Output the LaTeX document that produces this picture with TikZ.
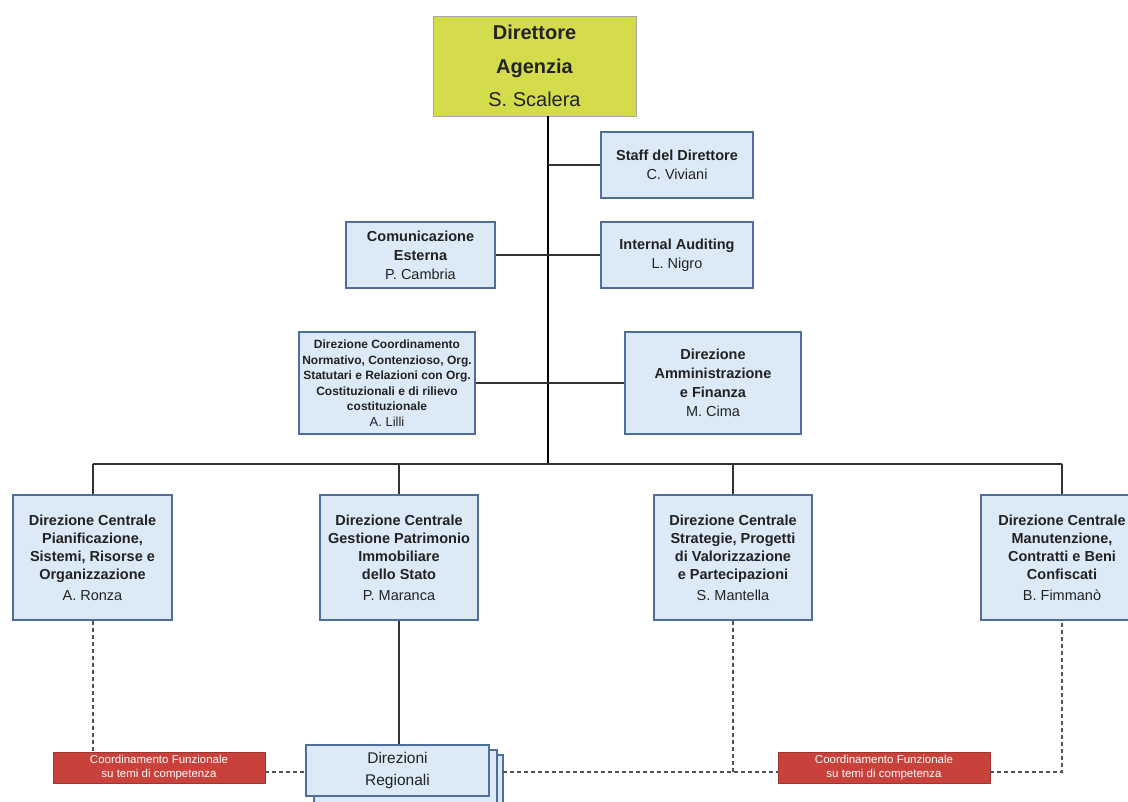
\documentclass[tikz,border=0pt]{standalone}
\usepackage{fontspec}
\setmainfont{Liberation Sans}
\definecolor{boxfill}{HTML}{DCEAF8}
\definecolor{boxline}{HTML}{4F6E9E}
\definecolor{topfill}{HTML}{D5DC4C}
\definecolor{redfill}{HTML}{C8413A}
\definecolor{txt}{HTML}{222222}
\definecolor{conn}{HTML}{333333}
\tikzset{
  orgbox/.style={draw=boxline, line width=1.2pt, fill=boxfill, align=center, text=txt, inner sep=0pt},
  topbox/.style={draw=gray!70, line width=0.6pt, fill=topfill, align=center, text=txt, inner sep=0pt,
     font=\fontsize{20}{33.5}\selectfont\bfseries},
  midfont/.style={font=\fontsize{14.5}{19}\selectfont\bfseries},
  botfont/.style={font=\fontsize{14.5}{18}\selectfont\bfseries},
  smallfont/.style={font=\fontsize{12}{15.5}\selectfont\bfseries},
  redbox/.style={draw=redfill!80!black, line width=0.4pt, fill=redfill, align=center, text=white,
     inner sep=0pt, font=\fontsize{11.5}{13.5}\selectfont},
  conline/.style={draw=conn, line width=1.3pt},
  trunk/.style={draw=black, line width=2pt},
  dashline/.style={draw=conn!85, line width=1.3pt, dash pattern=on 4pt off 3pt},
}
\begin{document}
\begin{tikzpicture}[x=1pt,y=-1pt]
\useasboundingbox[fill=white] (0,0) rectangle (1128,802);

% top
\node[topbox, minimum width=203, minimum height=100] (dir) at (534.5,66)
  {Direttore\\Agenzia\\\mdseries S. Scalera};

% middle boxes
\node[orgbox, midfont, minimum width=152, minimum height=66] (staff) at (677,165)
  {Staff del Direttore\\\mdseries C. Viviani};
\node[orgbox, midfont, minimum width=149, minimum height=66] (com) at (420.5,255)
  {Comunicazione\\Esterna\\\mdseries P. Cambria};
\node[orgbox, midfont, minimum width=152, minimum height=66] (int) at (677,255)
  {Internal Auditing\\\mdseries L. Nigro};
\node[orgbox, smallfont, minimum width=176, minimum height=102] (coord) at (387,383)
  {Direzione Coordinamento\\Normativo, Contenzioso, Org.\\Statutari e Relazioni con Org.\\Costituzionali e di rilievo\\costituzionale\\\mdseries\fontsize{13}{15.5}\selectfont A. Lilli};
\node[orgbox, midfont, minimum width=176, minimum height=102] (amm) at (713,383)
  {Direzione\\Amministrazione\\e Finanza\\\mdseries M. Cima};

% bottom boxes
\node[orgbox, botfont, minimum width=159, minimum height=125] (pian) at (92.5,557.5)
  {Direzione Centrale\\Pianificazione,\\Sistemi, Risorse e\\Organizzazione\\[3pt]\mdseries A. Ronza};
\node[orgbox, botfont, minimum width=158, minimum height=125] (gest) at (399,557.5)
  {Direzione Centrale\\Gestione Patrimonio\\Immobiliare\\dello Stato\\[3pt]\mdseries P. Maranca};
\node[orgbox, botfont, minimum width=158, minimum height=125] (strat) at (733,557.5)
  {Direzione Centrale\\Strategie, Progetti\\di Valorizzazione\\e Partecipazioni\\[3pt]\mdseries S. Mantella};
\node[orgbox, botfont, minimum width=162, minimum height=125] (manut) at (1062,557.5)
  {Direzione Centrale\\Manutenzione,\\Contratti e Beni\\Confiscati\\[3pt]\mdseries B. Fimmanò};

% regional stack
\draw[draw=boxline, line width=1.2pt, fill=boxfill] (320,755) rectangle (503,808);
\draw[draw=boxline, line width=1.2pt, fill=boxfill] (314,750) rectangle (497,804);
\node[orgbox, font=\fontsize{15.5}{22}\selectfont, minimum width=183, minimum height=51] (reg) at (397.5,770.5)
  {Direzioni\\Regionali};
\coordinate (stackR) at (503,772);

% red boxes
\node[redbox, minimum width=212, minimum height=31] (red1) at (159,767.5)
  {Coordinamento Funzionale\\su temi di competenza};
\node[redbox, minimum width=212, minimum height=31] (red2) at (884,767.5)
  {Coordinamento Funzionale\\su temi di competenza};

% coordinates
\coordinate (trunkbot) at (548,464);
\coordinate (busL) at (93,464);
\coordinate (busR) at (1062,464);
\coordinate (dashL) at (265,772);
\coordinate (dashR) at (990,772);

% connectors
\draw[trunk] (dir.south -| trunkbot) -- (trunkbot);
\draw[conline] (staff.west) -- (staff.west -| trunkbot);
\draw[conline] (com.east) -- (int.west);
\draw[conline] (coord.east) -- (amm.west);
\draw[conline] (busL) -- (busR);
\draw[conline] (busL) -- (pian.north -| busL);
\draw[conline] (gest.north |- busL) -- (gest.north);
\draw[conline] (strat.north |- busL) -- (strat.north);
\draw[conline] (busR) -- (manut.north -| busR);
\draw[conline] (gest.south) -- (gest.south |- reg.north);

% dashed
\draw[dashline] (pian.south -| busL) -- (red1.north -| busL);
\draw[dashline] (dashL) -- (dashL -| reg.west);
\draw[dashline] (stackR) -- (stackR -| red2.west);
\draw[dashline] (strat.south) -- (strat.south |- stackR);
\draw[dashline] (dashR) -- (dashR -| busR) -- (manut.south -| busR);
\end{tikzpicture}
\end{document}
